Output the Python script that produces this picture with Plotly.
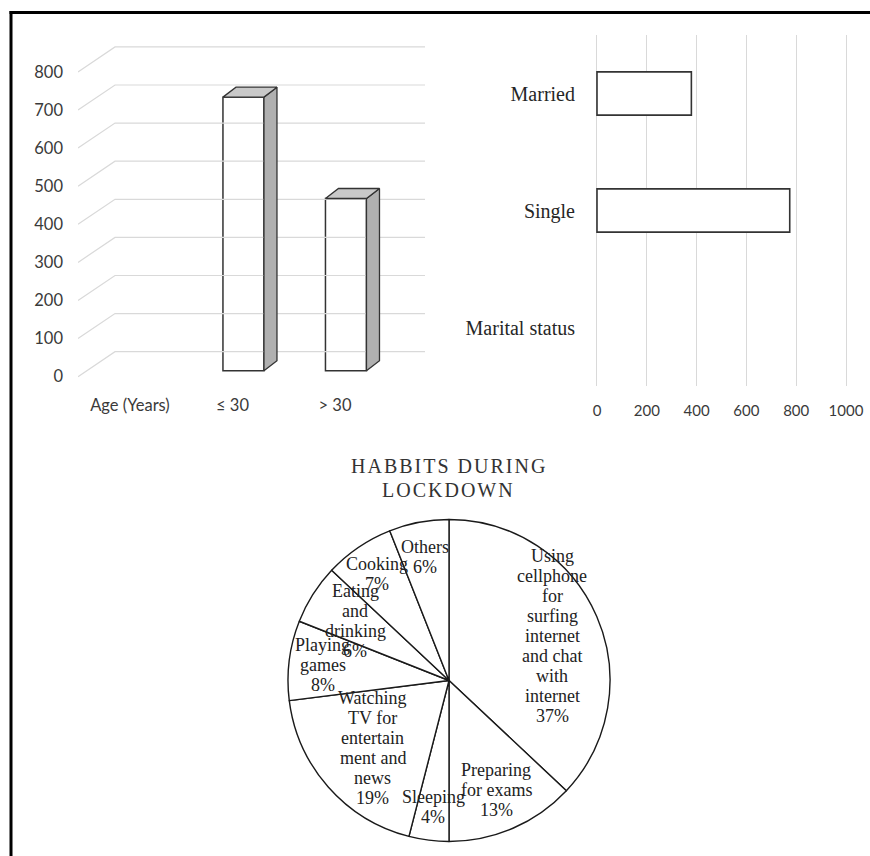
import numpy as np
import plotly.graph_objects as go

# ---------------- data ----------------
age_categories = ["Age (Years)", "≤ 30", "> 30"]
age_counts = [None, 718, 452]

marital_categories = ["Marital status", "Single", "Married"]
marital_counts = [None, 774, 379]

habit_labels = [
    "Using<br>cellphone<br>for<br>surfing<br>internet<br>and chat<br>with<br>internet",
    "Preparing<br>for exams",
    "Sleeping",
    "Watching<br>TV for<br>entertain<br>ment and<br>news",
    "Playing<br>games",
    "Eating<br>and<br>drinking",
    "Cooking",
    "Others",
]
habit_percent = [37, 13, 4, 19, 8, 6, 7, 6]

age_ticks = [0, 100, 200, 300, 400, 500, 600, 700, 800]
marital_ticks = [0, 200, 400, 600, 800, 1000]

# ---------------- styling / geometry ----------------
W, H = 870, 856
grid_col = "#d9d9d9"
edge_col = "#333333"
tick_col = "#3a3a3a"
sans = "Lato"
serif = "Liberation Serif"

# left (pseudo 3D) chart axes
x1_range = [-0.507, 2.878]
y1_range = [-21.8, 896.8]
back_dx, back_dy = 0.361, 65.6      # back wall offset (data units)
bar_dx, bar_dy = 0.127, 26.2        # bar depth offset (data units)
bar_base = 15.7                     # bar sits at mid depth
bar_width, bar_offset = 0.4, -0.093

fig = go.Figure()

# perspective gridlines
gx, gy = [], []
for t in age_ticks:
    gx += [x1_range[0], x1_range[0] + back_dx, x1_range[1], None]
    gy += [t, t + back_dy, t + back_dy, None]
fig.add_trace(go.Scatter(x=gx, y=gy, mode="lines", line=dict(color=grid_col, width=1.2),
                         hoverinfo="skip", showlegend=False, xaxis="x", yaxis="y"))

age_pos = np.arange(len(age_categories))
fig.add_trace(go.Bar(x=age_pos, y=age_counts, base=bar_base, width=bar_width, offset=bar_offset,
                     marker=dict(color="white", line=dict(color=edge_col, width=1.5)),
                     hoverinfo="skip", showlegend=False, xaxis="x", yaxis="y"))

for p, v in zip(age_pos, age_counts):
    if v is None:
        continue
    xl = p + bar_offset
    xr = xl + bar_width
    b = bar_base
    top = b + v
    fig.add_trace(go.Scatter(
        x=[xr, xr + bar_dx, xr + bar_dx, xr, xr],
        y=[b, b + bar_dy, top + bar_dy, top, b],
        fill="toself", fillcolor="#b0b0b0", mode="lines",
        line=dict(color=edge_col, width=1.3), hoverinfo="skip", showlegend=False,
        xaxis="x", yaxis="y"))
    fig.add_trace(go.Scatter(
        x=[xl, xl + bar_dx, xr + bar_dx, xr, xl],
        y=[top, top + bar_dy, top + bar_dy, top, top],
        fill="toself", fillcolor="#c9c9c9", mode="lines",
        line=dict(color=edge_col, width=1.3), hoverinfo="skip", showlegend=False,
        xaxis="x", yaxis="y"))

# right horizontal bar chart
fig.add_trace(go.Bar(y=marital_categories, x=marital_counts, orientation="h", width=0.37,
                     marker=dict(color="white", line=dict(color=edge_col, width=1.6)),
                     hoverinfo="skip", showlegend=False, xaxis="x2", yaxis="y2"))

# pie
pie_cx_px, pie_cy_px, pie_r_px = 449, 680.5, 161
pie_dom_x = [(pie_cx_px - pie_r_px) / W, (pie_cx_px + pie_r_px) / W]
pie_dom_y = [1 - (pie_cy_px + pie_r_px) / H, 1 - (pie_cy_px - pie_r_px) / H]
fig.add_trace(go.Pie(values=habit_percent, labels=[l.replace("<br>", " ") for l in habit_labels],
                     sort=False, direction="clockwise", rotation=0,
                     marker=dict(colors=["white"] * len(habit_percent),
                                 line=dict(color="#1a1a1a", width=1.4)),
                     textinfo="none", hoverinfo="skip", showlegend=False,
                     domain=dict(x=pie_dom_x, y=pie_dom_y)))

# pie labels placed inside their slices, one line at a time (tight line spacing)
label_r = [0.70, 0.74, 0.79, 0.63, 0.79, 0.69, 0.80, 0.78]
line_h = 20
total = sum(habit_percent)
cum = 0
annotations = []
for lab, v, fr in zip(habit_labels, habit_percent, label_r):
    mid = (cum + v / 2) / total * 2 * np.pi
    cum += v
    lx = pie_cx_px + fr * pie_r_px * np.sin(mid)
    ly = pie_cy_px - fr * pie_r_px * np.cos(mid)
    lines = (lab + f"<br>{round(v / total * 100)}%").split("<br>")
    n = len(lines)
    for k, line in enumerate(lines):
        yy = ly + (k - (n - 1) / 2) * line_h
        annotations.append(dict(x=lx / W, y=1 - yy / H, xref="paper", yref="paper",
                                showarrow=False, text=line,
                                font=dict(family=serif, size=18, color="#222222"),
                                xanchor="center", yanchor="middle", align="center"))

title_lines = ["HABBITS DURING", "LOCKDOWN"]
for k, tl in enumerate(title_lines):
    annotations.append(dict(x=449 / W, y=1 - (466 + 24.5 * k) / H, xref="paper", yref="paper",
                            showarrow=False,
                            text=f'<span style="letter-spacing:2px">{tl}</span>',
                            font=dict(family=serif, size=20, color="#333333"),
                            xanchor="center", yanchor="middle", align="center"))

fig.update_layout(
    width=W, height=H, autosize=False,
    margin=dict(l=0, r=0, t=0, b=0, pad=0),
    paper_bgcolor="white", plot_bgcolor="white",
    barmode="overlay",
    xaxis=dict(domain=[78 / W, 425 / W], range=x1_range, tickvals=list(age_pos),
               ticktext=age_categories, showgrid=False, zeroline=False, showline=False,
               ticks="", ticklabelstandoff=8, fixedrange=True, automargin=False,
               tickfont=dict(family=sans, size=16.5, color=tick_col)),
    yaxis=dict(domain=[1 - 385 / H, 1 - 35 / H], range=y1_range, tickvals=age_ticks,
               showgrid=False, zeroline=False, showline=False, ticks="",
               ticklabelstandoff=14, fixedrange=True, automargin=False,
               tickfont=dict(family=sans, size=16.5, color=tick_col)),
    xaxis2=dict(domain=[594 / W, 849 / W], range=[-12, 1012], tickvals=marital_ticks,
                showgrid=True, gridcolor=grid_col, gridwidth=1.2, zeroline=False,
                showline=False, ticks="", ticklabelstandoff=14, anchor="y2",
                fixedrange=True, automargin=False,
                tickfont=dict(family=sans, size=15, color=tick_col)),
    yaxis2=dict(domain=[1 - 386 / H, 1 - 35 / H], type="category",
                categoryorder="array", categoryarray=marital_categories,
                range=[-0.5, 2.5], showgrid=False, zeroline=False, showline=False,
                ticks="", ticklabelstandoff=18, anchor="x2", fixedrange=True,
                automargin=False,
                tickfont=dict(family=serif, size=20, color="#262626")),
    annotations=annotations,
    shapes=[
        dict(type="line", xref="paper", yref="paper", x0=11 / W, x1=11 / W,
             y0=0, y1=1 - 11 / H, line=dict(color="black", width=3)),
        dict(type="line", xref="paper", yref="paper", x0=9.5 / W, x1=1,
             y0=1 - 12.5 / H, y1=1 - 12.5 / H, line=dict(color="black", width=3)),
    ],
)

post = """
document.body.style.margin='0px';
document.documentElement.style.overflow='hidden';
document.body.style.overflow='hidden';
"""

fig.write_html("out.html", config={"displayModeBar": False}, post_script=post)
